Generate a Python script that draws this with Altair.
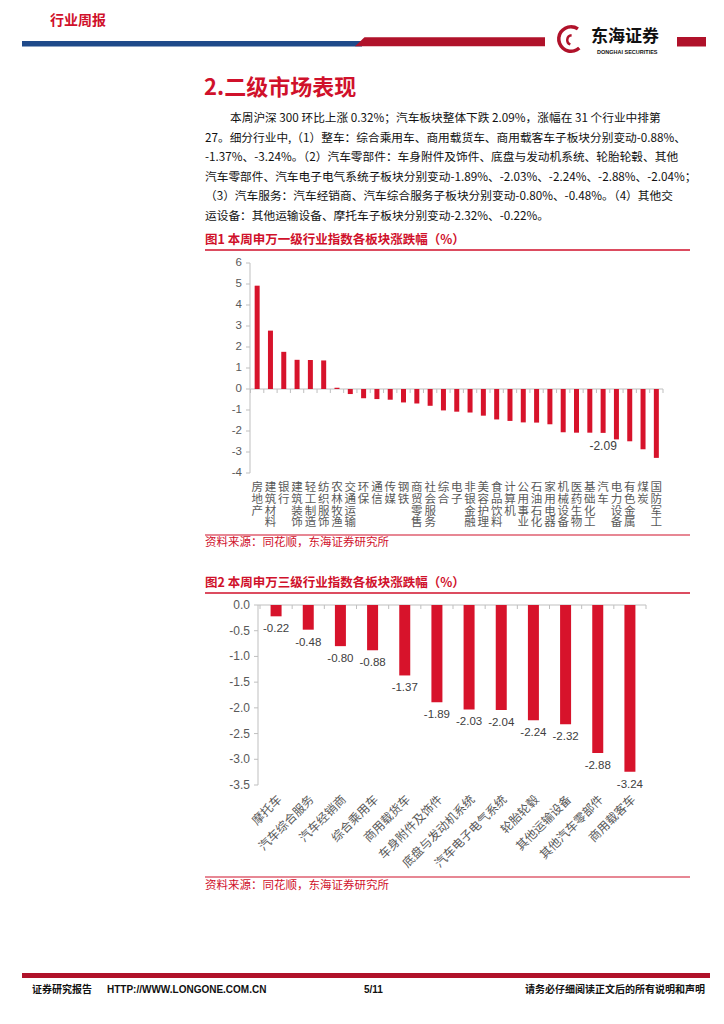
import altair as alt
import pandas as pd

# ---------------- data ----------------
industries = ["房地产", "建筑材料", "银行", "建筑装饰", "轻工制造", "纺织服饰", "农林牧渔",
              "交通运输", "环保", "通信", "传媒", "钢铁", "商贸零售", "社会服务", "综合",
              "电子", "非银金融", "美容护理", "食品饮料", "计算机", "公用事业", "石油石化",
              "家用电器", "机械设备", "医药生物", "基础化工", "汽车", "电力设备", "有色金属",
              "煤炭", "国防军工"]
industry_change = [4.92, 2.78, 1.77, 1.39, 1.38, 1.36, 0.06, -0.24, -0.44, -0.48, -0.51,
                   -0.64, -0.69, -0.80, -1.02, -1.08, -1.12, -1.27, -1.45, -1.52, -1.59,
                   -1.60, -1.68, -2.06, -2.08, -2.08, -2.09, -2.40, -2.49, -2.87, -3.28]
highlight_industry = "汽车"

subsectors = ["摩托车", "汽车综合服务", "汽车经销商", "综合乘用车", "商用载货车",
              "车身附件及饰件", "底盘与发动机系统", "汽车电子电气系统", "轮胎轮毂",
              "其他运输设备", "其他汽车零部件", "商用载客车"]
subsector_change = [-0.22, -0.48, -0.80, -0.88, -1.37, -1.89, -2.03, -2.04, -2.24,
                    -2.32, -2.88, -3.24]

y1_ticks = [6, 5, 4, 3, 2, 1, 0, -1, -2, -3, -4]
y2_ticks = [0.0, -0.5, -1.0, -1.5, -2.0, -2.5, -3.0, -3.5]

header_title = "行业周报"
logo_cn = "东海证券"
logo_en = "DONGHAI SECURITIES"
section_title = "2.二级市场表现"
paragraph = [
    "本周沪深 300 环比上涨 0.32%；汽车板块整体下跌 2.09%，涨幅在 31 个行业中排第",
    "27。细分行业中,（1）整车：综合乘用车、商用载货车、商用载客车子板块分别变动-0.88%、",
    "-1.37%、-3.24%。（2）汽车零部件：车身附件及饰件、底盘与发动机系统、轮胎轮毂、其他",
    "汽车零部件、汽车电子电气系统子板块分别变动-1.89%、-2.03%、-2.24%、-2.88%、-2.04%；",
    "（3）汽车服务：汽车经销商、汽车综合服务子板块分别变动-0.80%、-0.48%。（4）其他交",
    "运设备：其他运输设备、摩托车子板块分别变动-2.32%、-0.22%。",
]
fig1_title = "图1  本周申万一级行业指数各板块涨跌幅（%）"
fig2_title = "图2  本周申万三级行业指数各板块涨跌幅（%）"
source_note = "资料来源：同花顺，东海证券研究所"
footer_left = "证券研究报告"
footer_url = "HTTP://WWW.LONGONE.COM.CN"
footer_page = "5/11"
footer_right = "请务必仔细阅读正文后的所有说明和声明"

# ---------------- style ----------------
W, H = 708, 1008
CJK = "Noto Sans CJK SC"
LAT = "Liberation Sans"
RED = "#D7132B"
RED_T = "#D0112B"
RED_D = "#B0122A"
BLUE = "#1F4A8A"
GREY_L = "#BFBFBF"
GREY_T = "#595959"
MINUS = "\u2212"


def P(v):
    return v - 8


one = pd.DataFrame({"k": [0]})
zero_df = pd.DataFrame({"zero": [0]})


def text(t, x, y, size, color="#000000", weight="normal", align="left", font=CJK):
    return alt.Chart(pd.DataFrame({"t": [t]})).mark_text(
        align=align, baseline="middle", fontSize=size, color=color,
        fontWeight=weight, font=font
    ).encode(x=alt.value(P(x)), y=alt.value(P(y)), text="t:N")


def rect(x1, x2, y1, y2, color):
    return alt.Chart(one).mark_rect(color=color).encode(
        x=alt.value(P(x1)), x2=alt.value(P(x2)), y=alt.value(P(y1)), y2=alt.value(P(y2)))


def hline(x1, x2, y, color, width=1.0):
    return alt.Chart(one).mark_rule(color=color, strokeWidth=width).encode(
        x=alt.value(P(x1)), x2=alt.value(P(x2)), y=alt.value(P(y)))


def vline(x, y1, y2, color, width=1.0):
    return alt.Chart(one).mark_rule(color=color, strokeWidth=width).encode(
        x=alt.value(P(x)), y=alt.value(P(y1)), y2=alt.value(P(y2)))


def fmt_expr(field, spec):
    return f"replace(format(datum.{field}, '{spec}'), '{MINUS}', '-')"


decor = []
# header
decor.append(text(header_title, 50, 21, 14, RED_T, "bold"))
decor.append(rect(22, 362, 41, 46.5, BLUE))
decor.append(alt.Chart(one).mark_point(
    shape="M-1,0.047 L-0.9,-0.047 L1,-0.047 L1,0.047 Z",
    size=190 * 190, filled=True, opacity=1, color=RED_D, strokeWidth=0
).encode(x=alt.value(P(450)), y=alt.value(P(41.8))))
decor.append(rect(677, 706, 37, 46.5, RED_D))
# logo
decor.append(alt.Chart(one).mark_arc(radius=14, radius2=10.5, theta=2.4, theta2=6.28, color=RED_D)
             .encode(x=alt.value(P(571)), y=alt.value(P(39))))
decor.append(alt.Chart(one).mark_arc(radius=14, radius2=10.5, theta=0.0, theta2=0.6, color=RED_D)
             .encode(x=alt.value(P(571)), y=alt.value(P(39))))
decor.append(alt.Chart(one).mark_arc(radius=6, radius2=3.5, theta=3.5, theta2=6.2, color=RED_D)
             .encode(x=alt.value(P(572)), y=alt.value(P(40))))
decor.append(text(logo_cn, 591, 37, 17, "#111111", "bold"))
decor.append(text(logo_en, 597, 52, 5.5, "#111111", "bold", font=LAT))
# section title and paragraph
decor.append(text(section_title, 204, 88, 22, RED_T, "bold"))
para_y = [118, 137.5, 157, 176.5, 196, 215.5]
para_x = [230, 205, 205, 205, 205, 205]
for line, px, py in zip(paragraph, para_x, para_y):
    decor.append(text(line, px, py, 11.7, "#111111"))
# figure 1 frame
decor.append(text(fig1_title, 205, 240, 12.5, RED_T, "bold"))
decor.append(hline(205, 690, 250, RED_T, 1.5))
decor.append(hline(205, 690, 535, RED_T, 1.2))
decor.append(text(source_note, 205, 543, 11.5, RED_T))
# figure 2 frame
decor.append(text(fig2_title, 205, 583, 12.5, RED_T, "bold"))
decor.append(hline(205, 690, 593, RED_T, 1.5))
decor.append(hline(205, 690, 877, RED_T, 1.2))
decor.append(text(source_note, 205, 886, 11.5, RED_T))
# footer
decor.append(rect(22, 710, 973, 978, RED_D))
decor.append(text(footer_left, 32, 990, 10, "#111111", "bold"))
decor.append(text(footer_url, 107, 990, 10, "#111111", "bold", font=LAT))
decor.append(text(footer_page, 364, 990, 10, "#111111", "bold", font=LAT))
decor.append(text(footer_right, 705, 990, 10, "#111111", "bold", align="right"))

# ---------------- chart 1 ----------------
X1_LO, X1_HI, Y1_TOP, Y1_BOT, Y1_ZERO, AX1 = 250.5, 663, 263, 473, 389, 250
BW1 = (X1_HI - X1_LO) / len(industries)
df1 = pd.DataFrame({"industry": industries, "change": industry_change})
t1 = pd.DataFrame({"v": y1_ticks})
ext1 = pd.DataFrame({"hi": [max(y1_ticks)], "lo": [min(y1_ticks)]})
sx1 = alt.Scale(domain=industries, range=[P(X1_LO), P(X1_HI)], paddingInner=0, paddingOuter=0)
sy1 = alt.Scale(domain=[-4, 6], range=[P(Y1_BOT), P(Y1_TOP)], nice=False, zero=False)
X1 = alt.X("industry:N", scale=sx1, axis=None)

bars1 = alt.Chart(df1).mark_bar(width=5, color=RED).encode(
    x=X1, y=alt.Y("change:Q", scale=sy1, axis=None), y2=alt.datum(0))
lab1 = alt.Chart(df1).transform_filter(alt.datum.industry == highlight_industry).transform_calculate(
    lbl=fmt_expr("change", ".2f")
).mark_text(baseline="middle", dy=13, fontSize=12, font=LAT, color="#404040").encode(
    x=X1, y=alt.Y("change:Q", scale=sy1, axis=None), text="lbl:N")
ydom1 = alt.Chart(ext1).mark_rule(color=GREY_L).encode(
    x=alt.value(P(AX1)), y=alt.Y("hi:Q", scale=sy1, axis=None), y2="lo:Q")
ytk1 = alt.Chart(t1).mark_rule(color=GREY_L).encode(
    y=alt.Y("v:Q", scale=sy1, axis=None), x=alt.value(P(AX1 - 4)), x2=alt.value(P(AX1)))
ylab1 = alt.Chart(t1).transform_calculate(lbl=fmt_expr("v", "d")).mark_text(
    align="right", baseline="middle", fontSize=11.5, font=LAT, color=GREY_T
).encode(y=alt.Y("v:Q", scale=sy1, axis=None), x=alt.value(P(AX1 - 8)), text="lbl:N")
xdom1 = alt.Chart(zero_df).mark_rule(color=GREY_L).encode(
    x=alt.value(P(X1_LO)), x2=alt.value(P(X1_HI)), y=alt.Y("zero:Q", scale=sy1, axis=None))
xtk1 = alt.Chart(df1).mark_rule(color=GREY_L, xOffset=-BW1 / 2).encode(
    x=X1, y=alt.value(P(Y1_ZERO)), y2=alt.value(P(Y1_ZERO + 4)))
# vertical, upright stacked category labels (one character per line)
xlab1 = alt.Chart(df1).transform_calculate(
    stacked="join(split(datum.industry, ''), '\\n')"
).mark_text(
    align="center", baseline="top", fontSize=11.5, lineHeight=11.8, lineBreak="\n",
    font=CJK, color=GREY_T
).encode(x=X1, y=alt.value(P(Y1_BOT + 9)), text="stacked:N")
chart1 = alt.layer(ydom1, ytk1, ylab1, xdom1, xtk1, bars1, lab1, xlab1)
decor.append(vline(X1_HI, Y1_ZERO, Y1_ZERO + 4, GREY_L))

# ---------------- chart 2 ----------------
X2_LO, X2_HI, Y2_TOP, Y2_BOT, AX2 = 260, 646, 605, 785, 258
BW2 = (X2_HI - X2_LO) / len(subsectors)
df2 = pd.DataFrame({"sub": subsectors, "change": subsector_change})
t2 = pd.DataFrame({"v": y2_ticks})
ext2 = pd.DataFrame({"hi": [max(y2_ticks)], "lo": [min(y2_ticks)]})
sx2 = alt.Scale(domain=subsectors, range=[P(X2_LO), P(X2_HI)], paddingInner=0, paddingOuter=0)
sy2 = alt.Scale(domain=[-3.5, 0], range=[P(Y2_BOT), P(Y2_TOP)], nice=False, zero=False)
X2 = alt.X("sub:N", scale=sx2, axis=None)

bars2 = alt.Chart(df2).mark_bar(width=11, color=RED).encode(
    x=X2, y=alt.Y("change:Q", scale=sy2, axis=None), y2=alt.datum(0))
lab2 = alt.Chart(df2).transform_calculate(lbl=fmt_expr("change", ".2f")).mark_text(
    baseline="middle", dy=13, fontSize=11.5, font=LAT, color="#404040"
).encode(x=X2, y=alt.Y("change:Q", scale=sy2, axis=None), text="lbl:N")
ydom2 = alt.Chart(ext2).mark_rule(color=GREY_L).encode(
    x=alt.value(P(AX2)), y=alt.Y("hi:Q", scale=sy2, axis=None), y2="lo:Q")
ytk2 = alt.Chart(t2).mark_rule(color=GREY_L).encode(
    y=alt.Y("v:Q", scale=sy2, axis=None), x=alt.value(P(AX2 - 4)), x2=alt.value(P(AX2)))
ylab2 = alt.Chart(t2).transform_calculate(lbl=fmt_expr("v", ".1f")).mark_text(
    align="right", baseline="middle", fontSize=12, font=LAT, color=GREY_T
).encode(y=alt.Y("v:Q", scale=sy2, axis=None), x=alt.value(P(AX2 - 8)), text="lbl:N")
xdom2 = alt.Chart(zero_df).mark_rule(color=GREY_L).encode(
    x=alt.value(P(AX2)), x2=alt.value(P(X2_HI)), y=alt.Y("zero:Q", scale=sy2, axis=None))
xtk2 = alt.Chart(df2).mark_rule(color=GREY_L, xOffset=-BW2 / 2).encode(
    x=X2, y=alt.value(P(Y2_TOP)), y2=alt.value(P(Y2_TOP + 4)))
xlab2 = alt.Chart(df2).mark_text(
    angle=315, align="right", baseline="top", fontSize=12, font=CJK, color=GREY_T
).encode(x=X2, y=alt.value(P(Y2_BOT + 9)), text="sub:N")
chart2 = alt.layer(ydom2, ytk2, ylab2, xdom2, xtk2, bars2, lab2, xlab2)
decor.append(vline(X2_HI, Y2_TOP, Y2_TOP + 4, GREY_L))

chart = alt.layer(*decor, chart1, chart2).resolve_scale(
    x="independent", y="independent"
).properties(
    width=W, height=H, padding=0, background="white",
    autosize=alt.AutoSizeParams(type="none")
).configure_view(stroke=None)

chart.save("out.html", embed_options={"renderer": "svg", "actions": False})
